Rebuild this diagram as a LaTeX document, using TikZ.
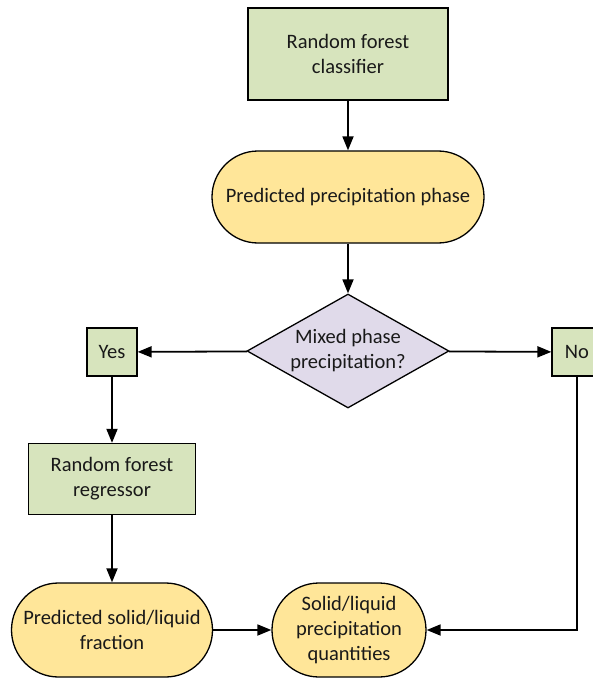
\documentclass[tikz,border=0pt]{standalone}
\usepackage{fontspec}
\setmainfont{Carlito}
\usetikzlibrary{shapes.geometric,arrows.meta}
\definecolor{boxgreen}{HTML}{D7E4BD}
\definecolor{stadyellow}{HTML}{FFE699}
\definecolor{diampurple}{HTML}{E0DAEA}
\begin{document}
\begin{tikzpicture}[x=1pt,y=-1pt,
  every node/.style={font=\fontsize{20.5}{25}\selectfont, align=center, text=black!90},
  procbox/.style={draw=black, line width=1.3pt, fill=boxgreen, rectangle, inner sep=0pt},
  stadium/.style={draw=black, line width=1.3pt, fill=stadyellow, rectangle, rounded corners=46pt, inner sep=0pt},
  decide/.style={draw=black, line width=1.3pt, fill=diampurple, diamond, aspect=1.77, inner sep=0pt, minimum width=202pt, minimum height=114pt},
  flow/.style={draw=black, line width=1.8pt, -{Triangle[length=14pt,width=11pt]}}]
\useasboundingbox (0,0) rectangle (593,679);
\clip (0,0) rectangle (593,679);
\node[procbox, minimum width=200pt, minimum height=92pt] (rfc) at (348,54) {Random forest\\classifier};
\node[stadium, minimum width=272pt, minimum height=92pt] (ppp) at (348,197) {Predicted precipitation phase};
\node[decide] (mix) at (348,351) {Mixed phase\\precipitation?};
\node[procbox, minimum width=50pt, minimum height=48pt] (yes) at (112,352) {Yes};
\node[procbox, minimum width=50pt, minimum height=48pt] (no) at (577,352) {No};
\node[procbox, minimum width=167pt, minimum height=71pt] (rfr) at (112,479) {Random forest\\regressor};
\node[stadium, minimum width=201pt, minimum height=94pt, rounded corners=47pt] (psl) at (112,630) {Predicted solid/liquid\\fraction};
\node[stadium, minimum width=154pt, minimum height=94pt, rounded corners=47pt] (slq) at (349,630) {Solid/liquid\\precipitation\\quantities};
\draw[flow] (rfc) -- (ppp);
\draw[flow] (ppp) -- (mix);
\draw[flow] (mix) -- (yes);
\draw[flow] (mix) -- (no);
\draw[flow] (yes) -- (rfr);
\draw[flow] (rfr) -- (psl);
\draw[flow] (psl) -- (slq);
\draw[flow] (no.south) |- (slq.east);
\end{tikzpicture}
\end{document}
